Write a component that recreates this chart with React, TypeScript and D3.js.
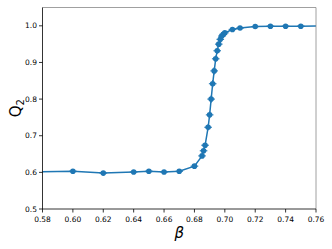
import React from "react";
import { scaleLinear, line, range } from "d3";

// beta values and measured Q2 with errors
const betas = [
  0.55, 0.6, 0.62, 0.64, 0.65, 0.66, 0.67, 0.68, 0.685, 0.686, 0.687, 0.689, 0.69,
  0.691, 0.692, 0.693, 0.694, 0.695, 0.696, 0.697, 0.698, 0.699, 0.7, 0.705,
  0.71, 0.72, 0.73, 0.74, 0.75, 0.8,
];
const q2 = [
  0.6, 0.603, 0.598, 0.601, 0.603, 0.601, 0.603, 0.617, 0.645, 0.659, 0.674,
  0.723, 0.757, 0.8, 0.842, 0.877, 0.91, 0.932, 0.95, 0.963, 0.972, 0.977,
  0.981, 0.99, 0.994, 0.998, 0.999, 0.999, 0.999, 1.0,
];
const q2Err = [
  0.002, 0.003, 0.002, 0.002, 0.002, 0.002, 0.002, 0.003, 0.004, 0.005, 0.006,
  0.008, 0.009, 0.01, 0.01, 0.01, 0.009, 0.008, 0.007, 0.006, 0.005, 0.004,
  0.003, 0.002, 0.001, 0.001, 0.001, 0.001, 0.001, 0.001,
];
const betaErr = 0.0025;

const xTicks = range(0, 10).map((i) => 0.58 + i * 0.02);
const yTicks = [0.5, 0.6, 0.7, 0.8, 0.9, 1.0];

const width = 332;
const height = 249;
const margin = { top: 7.5, right: 16, bottom: 40, left: 42.5 };
const innerWidth = width - margin.left - margin.right;
const innerHeight = height - margin.top - margin.bottom;
const blue = "#1f77b4";
const font = "DejaVu Sans, sans-serif";

const App = () => {
  const xScale = scaleLinear().domain([0.58, 0.76]).range([0, innerWidth]);
  const yScale = scaleLinear().domain([0.5, 1.05]).range([innerHeight, 0]);

  const data = betas.map((b, i) => ({ b, q: q2[i], e: q2Err[i] }));
  const lineGen = line<{ b: number; q: number }>()
    .x((d) => xScale(d.b))
    .y((d) => yScale(d.q));

  return (
    <svg
      width={width}
      height={height}
      style={{ position: "absolute", left: 0, top: 0, background: "#fff" }}
    >
      <defs>
        <clipPath id="plot">
          <rect width={innerWidth} height={innerHeight} />
        </clipPath>
      </defs>
      <g transform={`translate(${margin.left},${margin.top})`}>
        <g clipPath="url(#plot)">
          <path d={lineGen(data) || ""} fill="none" stroke={blue} strokeWidth={1.5} />
          {data.map((d, i) => (
            <g key={i} stroke={blue} strokeWidth={1.2} opacity={0.9}>
              <line
                x1={xScale(d.b - betaErr)}
                x2={xScale(d.b + betaErr)}
                y1={yScale(d.q)}
                y2={yScale(d.q)}
              />
              <line
                x1={xScale(d.b)}
                x2={xScale(d.b)}
                y1={yScale(d.q - d.e)}
                y2={yScale(d.q + d.e)}
              />
            </g>
          ))}
          {data.map((d, i) => (
            <circle key={i} cx={xScale(d.b)} cy={yScale(d.q)} r={2.8} fill={blue} />
          ))}
        </g>
        {/* spines */}
        <line x1={0} x2={innerWidth} y1={0} y2={0} stroke="#888" strokeWidth={0.8} />
        <line x1={innerWidth} x2={innerWidth} y1={0} y2={innerHeight} stroke="#888" strokeWidth={0.8} />
        <line x1={0} x2={0} y1={0} y2={innerHeight} stroke="#000" strokeWidth={0.8} />
        <line x1={0} x2={innerWidth} y1={innerHeight} y2={innerHeight} stroke="#000" strokeWidth={0.8} />
        {xTicks.map((t) => (
          <g key={t} transform={`translate(${xScale(t)},${innerHeight})`}>
            <line y2={3.5} stroke="#000" strokeWidth={0.8} />
            <text y={12.5} textAnchor="middle" fontSize={7.5} fontFamily={font} fill="#000">
              {t.toFixed(2)}
            </text>
          </g>
        ))}
        {yTicks.map((t) => (
          <g key={t} transform={`translate(0,${yScale(t)})`}>
            <line x2={-3.5} stroke="#000" strokeWidth={0.8} />
            <text x={-5.5} dy="0.35em" textAnchor="end" fontSize={7.5} fontFamily={font} fill="#000">
              {t.toFixed(1)}
            </text>
          </g>
        ))}
        <text
          x={innerWidth / 2}
          y={innerHeight + 29}
          textAnchor="middle"
          fontSize={15}
          fontStyle="italic"
          fontFamily={font}
          fill="#000"
        >
          β
        </text>
        <text
          transform={`translate(-22,${innerHeight / 2}) rotate(-90)`}
          textAnchor="middle"
          fontSize={15}
          fontFamily={font}
          fill="#000"
        >
          Q
          <tspan fontSize={10} dy={3}>2</tspan>
        </text>
      </g>
    </svg>
  );
};

export default App;
